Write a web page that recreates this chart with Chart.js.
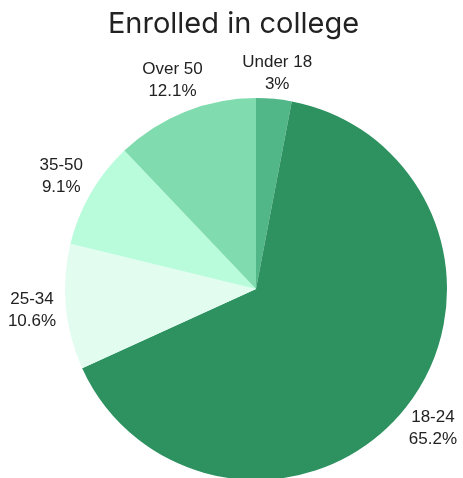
<!DOCTYPE html>
<html>
<head>
<meta charset="utf-8">
<script src="https://cdn.jsdelivr.net/npm/chart.js@4/dist/chart.umd.min.js"></script>
<style>
  html, body { margin: 0; padding: 0; background: #fff; overflow: hidden; }
  #wrap { width: 463px; height: 478px; }
</style>
</head>
<body>
<div id="wrap"><canvas id="mycanvas"></canvas></div>
<script>
var chartTitle = 'Enrolled in college';
var ages = ['Under 18', '18-24', '25-34', '35-50', 'Over 50'];
var shares = [3, 65.2, 10.6, 9.1, 12.1];
var sliceColors = ['#52b788', '#2d9160', '#e2fdf0', '#b8fcdb', '#80dcae'];

// title is drawn by hand so it stays centred on the canvas, not on the pie
var titleAndLabels = {
  id: 'titleAndLabels',
  afterDatasetsDraw: function(chart){
    var ctx = chart.ctx;
    var meta = chart.getDatasetMeta(0);
    ctx.save();
    ctx.fillStyle = '#222';
    ctx.textAlign = 'center';
    ctx.textBaseline = 'alphabetic';
    ctx.font = '29px Inter, sans-serif';
    ctx.fillText(chartTitle, chart.width / 2 + 2, 33);

    // slice labels outside the pie, along each slice's middle angle
    ctx.font = '17px "Liberation Sans", Arial, sans-serif';
    ctx.textBaseline = 'middle';
    meta.data.forEach(function(arc, i){
      var mid = (arc.startAngle + arc.endAngle) / 2;
      var r = arc.outerRadius + 34;
      var x = arc.x + Math.cos(mid) * r;
      var y = arc.y + Math.sin(mid) * r;
      // keep clear of the title
      if (y - 11 < 62) y = 73;
      ctx.fillText(ages[i], x, y - 11);
      ctx.fillText(shares[i] + '%', x, y + 11);
    });
    ctx.restore();
  }
};

var ctx = document.getElementById('mycanvas');
new Chart(ctx, {
  type: 'pie',
  data: {
    labels: ages,
    datasets: [{
      data: shares,
      backgroundColor: sliceColors,
      borderWidth: 0,
      radius: 191
    }]
  },
  options: {
    responsive: true,
    maintainAspectRatio: false,
    animation: false,
    layout: { padding: { left: 49, right: 0, top: 100, bottom: 0 } },
    plugins: {
      legend: { display: false },
      tooltip: { enabled: false },
      title: { display: false }
    }
  },
  plugins: [titleAndLabels]
});
</script>
</body>
</html>
